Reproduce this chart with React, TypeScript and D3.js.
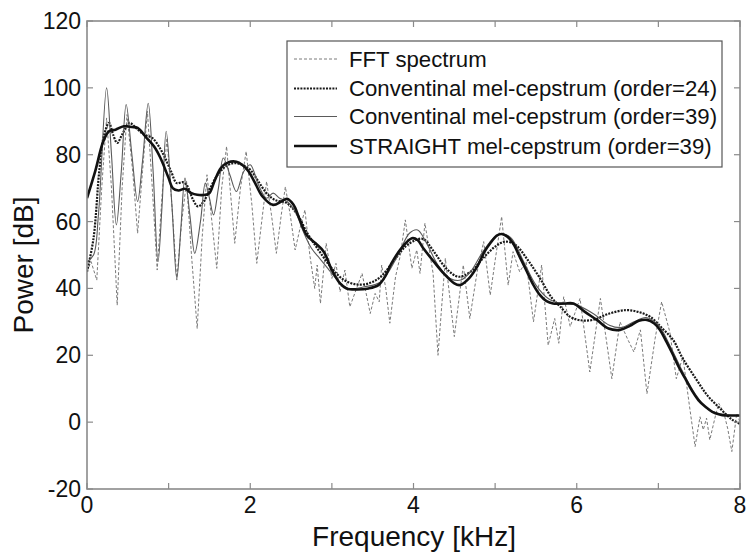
import React from "react";
import * as d3 from "d3";

// ---------- data ----------
const xTicks = [0, 1, 2, 3, 4, 5, 6, 7, 8];
const xTickLabels = ["0", "", "2", "", "4", "", "6", "", "8"];
const yTicks = [-20, 0, 20, 40, 60, 80, 100, 120];

const fftFreq = [0.0, 0.05, 0.12, 0.18, 0.24, 0.3, 0.37, 0.43, 0.49, 0.56, 0.62, 0.68, 0.74, 0.8, 0.86, 0.92, 0.98, 1.04, 1.1, 1.16, 1.22, 1.28, 1.35, 1.41, 1.47, 1.53, 1.59, 1.65, 1.71, 1.76, 1.81, 1.88, 1.95, 2.02, 2.08, 2.15, 2.2, 2.26, 2.32, 2.38, 2.43, 2.49, 2.55, 2.61, 2.67, 2.73, 2.79, 2.82, 2.86, 2.93, 3.0, 3.05, 3.1, 3.16, 3.22, 3.28, 3.37, 3.47, 3.53, 3.58, 3.61, 3.66, 3.71, 3.78, 3.84, 3.9, 3.98, 4.04, 4.08, 4.14, 4.24, 4.3, 4.39, 4.5, 4.61, 4.69, 4.78, 4.86, 4.94, 5.01, 5.08, 5.16, 5.22, 5.3, 5.38, 5.47, 5.57, 5.65, 5.73, 5.78, 5.84, 5.92, 6.04, 6.16, 6.29, 6.43, 6.53, 6.62, 6.7, 6.78, 6.86, 6.96, 7.04, 7.14, 7.22, 7.3, 7.38, 7.45, 7.51, 7.55, 7.59, 7.63, 7.7, 7.74, 7.8, 7.85, 7.9, 7.96, 8.0];
const fftPower = [45, 48, 42.5, 70, 91, 70, 35, 70, 92, 75, 56.5, 75, 93, 70, 45.5, 68, 85, 65, 42.5, 60, 72, 50, 28, 55, 74, 60, 46, 70, 82.5, 68, 53.5, 70, 81, 65, 47.5, 62, 72, 62, 50.5, 62, 70.4, 62, 51.5, 58, 63.5, 50, 40, 47, 35.5, 53.5, 43, 47.5, 39, 45.5, 34.5, 38.5, 44.5, 32.5, 38.5, 36, 47, 40, 29.6, 43.5, 50, 60.5, 46, 51.5, 44.5, 59.5, 44.5, 20, 49, 25.6, 47, 31, 45, 54, 38, 50, 61.5, 41, 51, 45, 48, 30, 47, 23, 31, 23.6, 37.5, 28.6, 37, 15, 37, 13, 30, 25, 21, 27.6, 8.5, 25, 36, 27, 13, 19.6, 5, -7.3, 1.6, -2.3, 1.2, -5.3, 2, 5.6, 3, -2, -8.8, 2.6, 0];

const conv24Freq = [0.0, 0.08, 0.15, 0.21, 0.27, 0.32, 0.37, 0.43, 0.52, 0.6, 0.7, 0.8, 0.88, 0.95, 1.03, 1.1, 1.17, 1.22, 1.3, 1.36, 1.43, 1.5, 1.6, 1.7, 1.8, 1.9, 2.0, 2.1, 2.2, 2.3, 2.45, 2.58, 2.7, 2.85, 3.0, 3.15, 3.3, 3.45, 3.6, 3.75, 3.9, 4.03, 4.12, 4.25, 4.4, 4.55, 4.7, 4.85, 5.0, 5.12, 5.25, 5.4, 5.55, 5.7, 5.8, 5.92, 6.04, 6.2, 6.4, 6.6, 6.75, 6.9, 7.05, 7.18, 7.3, 7.47, 7.6, 7.76, 7.9, 8.0];
const conv24Power = [45, 55, 75, 86, 89.5, 86, 83.5, 86, 89.5, 88, 86, 85, 82.5, 79.4, 75, 71.5, 71.8, 71, 66.5, 64.5, 66, 69.5, 74, 76.5, 77.5, 77, 75.5, 72, 68.5, 66.5, 65.5, 62, 56.5, 51, 46, 42.5, 41.2, 41.5, 43.5, 48, 52.5, 54.5, 54.8, 51, 46, 43.5, 45, 49, 52.5, 54, 53, 48.5, 43, 37, 34.5, 31.5, 30.5, 30.6, 32.5, 33.5, 33, 31.5, 28, 24.6, 19, 12.6, 8, 4, 0.8, -0.5];

const conv39Freq = [0.0, 0.08, 0.14, 0.24, 0.3, 0.36, 0.42, 0.48, 0.55, 0.62, 0.68, 0.75, 0.81, 0.87, 0.92, 0.97, 1.04, 1.1, 1.15, 1.2, 1.26, 1.32, 1.39, 1.45, 1.5, 1.55, 1.61, 1.67, 1.75, 1.83, 1.92, 2.0, 2.1, 2.2, 2.28, 2.36, 2.45, 2.55, 2.65, 2.75, 2.85, 2.95, 3.05, 3.2, 3.4, 3.6, 3.8, 3.95, 4.05, 4.15, 4.3, 4.45, 4.58, 4.7, 4.85, 5.0, 5.1, 5.2, 5.35, 5.5, 5.65, 5.8, 6.0, 6.2, 6.4, 6.55, 6.7, 6.85, 7.0, 7.15, 7.3, 7.45, 7.6, 7.75, 7.9, 8.0];
const conv39Power = [48, 50, 62, 100, 80, 59, 75, 95, 80, 66, 78, 95.4, 75, 48, 65, 87, 65, 43, 58, 73, 62, 50.5, 60, 71.5, 67, 62, 70, 79, 74, 69, 75, 77, 71, 67, 68.5, 67, 66, 63, 57, 52, 49, 46, 43, 40, 40.5, 42, 49.5, 56.5, 57.5, 54, 47, 43, 42.5, 45, 51, 55.5, 56.3, 55, 48, 41, 37, 35.5, 35, 32.5, 29, 28.3, 30, 31.3, 29, 22.5, 15, 8.5, 4, 2.5, 2, 2];

const straightFreq = [0.0, 0.1, 0.2, 0.27, 0.35, 0.45, 0.55, 0.62, 0.73, 0.82, 0.9, 1.0, 1.05, 1.12, 1.2, 1.28, 1.35, 1.45, 1.5, 1.56, 1.64, 1.73, 1.83, 1.9, 1.98, 2.06, 2.15, 2.28, 2.38, 2.45, 2.53, 2.6, 2.69, 2.8, 2.9, 3.0, 3.1, 3.18, 3.3, 3.45, 3.57, 3.65, 3.73, 3.85, 3.98, 4.05, 4.12, 4.25, 4.37, 4.5, 4.57, 4.68, 4.78, 4.87, 4.94, 5.02, 5.08, 5.15, 5.22, 5.3, 5.39, 5.47, 5.55, 5.63, 5.71, 5.85, 5.96, 6.1, 6.25, 6.39, 6.53, 6.65, 6.76, 6.86, 6.95, 7.02, 7.1, 7.17, 7.25, 7.33, 7.41, 7.49, 7.58, 7.66, 7.75, 7.82, 7.9, 8.0];
const straightPower = [67, 75, 84, 87, 87.5, 88.5, 88.3, 88, 85, 82.5, 79, 73, 70, 69.3, 69.8, 68.5, 68, 68, 68.5, 72, 76, 77.7, 77.9, 77, 75, 71.5, 67.5, 65, 66, 66.8, 65, 61, 56, 53.5, 51, 45.5, 41.5, 40, 39.7, 40, 41, 43.5, 47.5, 52, 55, 54.5, 52, 48, 44.5, 41.5, 41, 43, 46.5, 51, 53.5, 55.8, 56.3, 55.5, 53.5, 49.5, 45, 41, 38, 36.2, 35.5, 35.5, 35.5, 33, 30.5, 28, 27.6, 28.8, 30.3, 30.6, 29.5, 27.6, 24, 20.6, 16.5, 13, 9.5, 6.6, 4.5, 3.1, 2.3, 2, 2, 2];

const legendLabels = [
  "FFT spectrum",
  "Conventinal mel-cepstrum (order=24)",
  "Conventinal mel-cepstrum (order=39)",
  "STRAIGHT mel-cepstrum (order=39)",
];

// ---------- chart ----------
const W = 746;
const H = 552;
const FONT = "'Liberation Sans', Arial, Helvetica, sans-serif";

type Style = { stroke: string; width: number; dash?: string };
const styles: Style[] = [
  { stroke: "#7a7a7a", width: 1, dash: "3 2" },
  { stroke: "#1a1a1a", width: 2.2, dash: "2 1.2" },
  { stroke: "#5a5a5a", width: 1.1 },
  { stroke: "#111111", width: 2.6 },
];

export default function App() {
  const x = d3.scaleLinear().domain([0, 8]).range([87, 740]);
  const y = d3.scaleLinear().domain([-20, 120]).range([489, 21]);

  const zip = (f: number[], p: number[]) => f.map((v, i) => [v, p[i]] as [number, number]);
  const series = [
    { data: zip(fftFreq, fftPower), curve: d3.curveLinear },
    { data: zip(conv24Freq, conv24Power), curve: d3.curveCatmullRom.alpha(0.5) },
    { data: zip(conv39Freq, conv39Power), curve: d3.curveCatmullRom.alpha(0.5) },
    { data: zip(straightFreq, straightPower), curve: d3.curveCatmullRom.alpha(0.5) },
  ];

  const [x0, x1] = x.range();
  const [yb, yt] = y.range();
  const tickLen = 6;
  const axisColor = "#8a8a8a";

  const legendX = 287;
  const legendY = 41;
  const legendW = 435;
  const legendH = 126;
  const rowYs = [59, 88.5, 116.5, 146];

  return (
    <svg
      width={W}
      height={H}
      style={{ position: "absolute", left: 0, top: 0, background: "#fff" }}
      fontFamily={FONT}
    >
      <rect x={0} y={0} width={W} height={H} fill="#fff" />
      <defs>
        <clipPath id="plotclip">
          <rect x={x0} y={yt} width={x1 - x0} height={yb - yt} />
        </clipPath>
      </defs>

      {/* lines */}
      <g clipPath="url(#plotclip)">
        {series.map((s, i) => {
          const line = d3
            .line<[number, number]>()
            .x((d) => x(d[0]))
            .y((d) => y(d[1]))
            .curve(s.curve);
          return (
            <path
              key={i}
              d={line(s.data) || ""}
              fill="none"
              stroke={styles[i].stroke}
              strokeWidth={styles[i].width}
              strokeDasharray={styles[i].dash}
              strokeLinejoin="round"
            />
          );
        })}
      </g>

      {/* frame */}
      <rect x={x0} y={yt} width={x1 - x0} height={yb - yt} fill="none" stroke={axisColor} strokeWidth={1.6} />

      {/* x ticks */}
      {xTicks.map((t, i) => (
        <g key={"xt" + t}>
          <line x1={x(t)} x2={x(t)} y1={yb} y2={yb - tickLen} stroke={axisColor} strokeWidth={1.2} />
          <line x1={x(t)} x2={x(t)} y1={yt} y2={yt + tickLen} stroke={axisColor} strokeWidth={1.2} />
          {xTickLabels[i] && (
            <text x={x(t)} y={yb + 24} fontSize={23} textAnchor="middle" fill="#111">
              {xTickLabels[i]}
            </text>
          )}
        </g>
      ))}

      {/* y ticks */}
      {yTicks.map((t) => (
        <g key={"yt" + t}>
          <line x1={x0} x2={x0 + tickLen} y1={y(t)} y2={y(t)} stroke={axisColor} strokeWidth={1.2} />
          <line x1={x1} x2={x1 - tickLen} y1={y(t)} y2={y(t)} stroke={axisColor} strokeWidth={1.2} />
          <text x={x0 - 6} y={y(t) + 8} fontSize={23} textAnchor="end" fill="#111">
            {t}
          </text>
        </g>
      ))}

      {/* axis titles */}
      <text x={414} y={546} fontSize={28} textAnchor="middle" fill="#111">
        Frequency [kHz]
      </text>
      <text
        transform={`translate(33, 265) rotate(-90)`}
        fontSize={28}
        textAnchor="middle"
        fill="#111"
      >
        Power [dB]
      </text>

      {/* legend */}
      <rect x={legendX} y={legendY} width={legendW} height={legendH} fill="#fff" stroke="#555" strokeWidth={1.2} />
      {legendLabels.map((lab, i) => (
        <g key={lab}>
          <line
            x1={294}
            x2={337}
            y1={rowYs[i]}
            y2={rowYs[i]}
            stroke={styles[i].stroke}
            strokeWidth={styles[i].width}
            strokeDasharray={styles[i].dash}
          />
          <text x={349} y={rowYs[i] + 7.5} fontSize={22.2} fill="#111">
            {lab}
          </text>
        </g>
      ))}
    </svg>
  );
}
